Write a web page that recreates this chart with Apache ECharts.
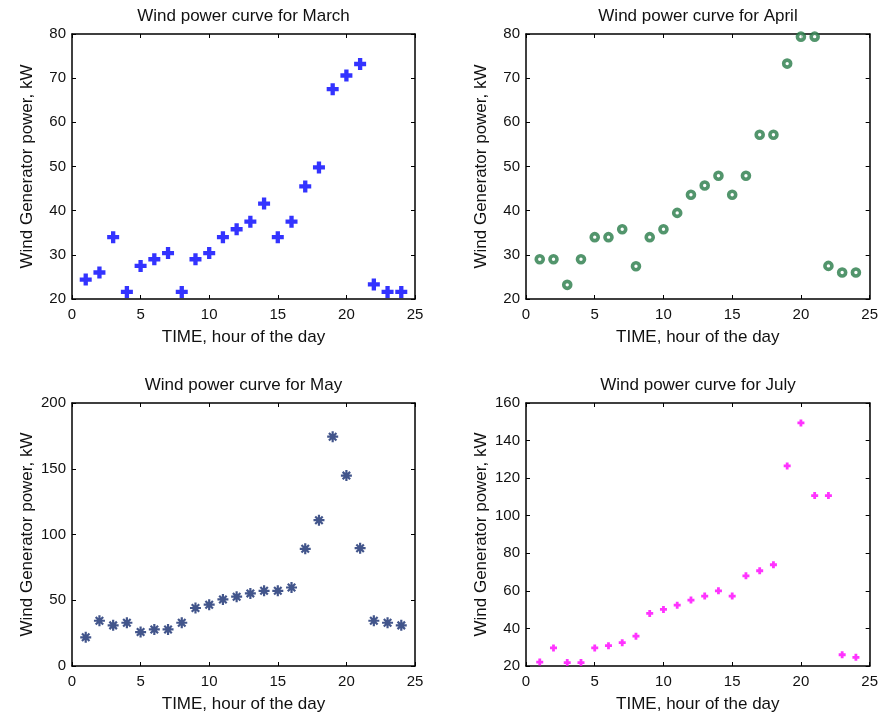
<!DOCTYPE html>
<html>
<head>
<meta charset="utf-8">
<script src="https://cdn.jsdelivr.net/npm/echarts@6/dist/echarts.min.js"></script>
<style>
  html, body { margin: 0; padding: 0; background: #fff; }
  #chart { width: 881px; height: 714px; }
</style>
</head>
<body>
<div id="chart"></div>
<script>
// Hour of the day, shared by all four panels
const hours = [1, 2, 3, 4, 5, 6, 7, 8, 9, 10, 11, 12, 13, 14, 15, 16, 17, 18, 19, 20, 21, 22, 23, 24];

// Generator power (kW) per hour, one array per month
const marchPower = [24.4, 26.0, 34.0, 21.6, 27.5, 29.0, 30.4, 21.6, 29.0, 30.4, 34.0, 35.8, 37.5, 41.6,
                    34.0, 37.5, 45.5, 49.8, 67.5, 70.6, 73.2, 23.3, 21.6, 21.6];
const aprilPower = [29.0, 29.0, 23.2, 29.0, 34.0, 34.0, 35.8, 27.4, 34.0, 35.8, 39.5, 43.6, 45.7, 47.9,
                    43.6, 47.9, 57.2, 57.2, 73.3, 79.4, 79.4, 27.5, 26.0, 26.0];
const mayPower   = [21.8, 34.4, 30.9, 32.9, 25.8, 27.8, 27.8, 32.9, 44.1, 46.6, 50.6, 52.7, 55.2, 57.2,
                    57.2, 59.7, 89.1, 110.9, 174.4, 144.8, 89.6, 34.4, 32.9, 30.9];
const julyPower  = [22.1, 29.6, 21.8, 21.8, 29.6, 30.8, 32.4, 35.9, 48.0, 50.1, 52.4, 55.1, 57.2, 60.0,
                    57.2, 68.0, 70.7, 73.9, 126.5, 149.4, 110.7, 110.7, 26.0, 24.6];

// Panel titles and y-axis ranges [min, max, step]
const panelTitles = ['Wind power curve for March', 'Wind power curve for April',
                     'Wind power curve for May', 'Wind power curve for July'];
const yRanges = [[20, 80, 10], [20, 80, 10], [0, 200, 50], [20, 160, 20]];
const xRange = [0, 25, 5];

const xName = 'TIME, hour of the day';
const yName = 'Wind Generator power, kW';

const FONT = '"Liberation Sans", Arial, sans-serif';

// Plot boxes (left, top, width, height)
const boxes = [
  { left: 72,  top: 34,  width: 343, height: 265 },
  { left: 526, top: 34,  width: 344, height: 265 },
  { left: 72,  top: 403, width: 343, height: 263 },
  { left: 526, top: 403, width: 344, height: 263 }
];

// Marker styles: thick plus, hollow ring, asterisk, small plus
const markerStyles = [
  { symbol: 'path://M3.2,0H6.8V3.2H10V6.8H6.8V10H3.2V6.8H0V3.2H3.2Z', symbolSize: 12,
    itemStyle: { color: '#0000ff' } },
  { symbol: 'circle', symbolSize: 7,
    itemStyle: { color: '#ffffff', borderColor: '#277a47', borderWidth: 3.6 } },
  { symbol: 'path://M5,0L5,10M0,5L10,5M1.6,1.6L8.4,8.4M8.4,1.6L1.6,8.4', symbolSize: 11,
    itemStyle: { color: 'none', borderColor: '#132a6e', borderWidth: 2.2 } },
  { symbol: 'path://M3,0H7V3H10V7H7V10H3V7H0V3H3Z', symbolSize: 7,
    itemStyle: { color: '#ff00ff' } }
];

const seriesData = [marchPower, aprilPower, mayPower, julyPower];

const axisLineStyle = { show: true, onZero: false, lineStyle: { color: '#000', width: 1.5 } };
const tickInside = { show: true, inside: true, length: 4, lineStyle: { color: '#000', width: 1 } };
const tickLabel = { color: '#111', fontFamily: FONT, fontSize: 15 };
const nameStyle = { fontFamily: FONT, fontSize: 17, color: '#111' };

const grids = [], xAxes = [], yAxes = [], series = [], titles = [];

boxes.forEach((b, i) => {
  grids.push({ left: b.left, top: b.top, width: b.width, height: b.height, containLabel: false });

  titles.push({
    text: panelTitles[i],
    left: b.left + b.width / 2,
    top: b.top - 26,
    textAlign: 'center',
    padding: 0,
    textStyle: { fontFamily: FONT, fontSize: 17, fontWeight: 'normal', color: '#111' }
  });

  // bottom x axis with labels
  xAxes.push({
    type: 'value', gridIndex: i, position: 'bottom',
    min: xRange[0], max: xRange[1], interval: xRange[2],
    name: xName, nameLocation: 'middle', nameGap: 30,
    nameTextStyle: nameStyle,
    axisLine: axisLineStyle, axisTick: tickInside,
    axisLabel: Object.assign({ margin: 8 }, tickLabel),
    splitLine: { show: false }
  });
  // top x axis (box edge with ticks)
  xAxes.push({
    type: 'value', gridIndex: i, position: 'top',
    min: xRange[0], max: xRange[1], interval: xRange[2],
    axisLine: axisLineStyle, axisTick: tickInside,
    axisLabel: { show: false }, splitLine: { show: false }
  });

  const yr = yRanges[i];
  // left y axis with labels
  yAxes.push({
    type: 'value', gridIndex: i, position: 'left',
    min: yr[0], max: yr[1], interval: yr[2],
    name: yName, nameLocation: 'middle', nameGap: 36,
    nameTextStyle: nameStyle,
    axisLine: axisLineStyle, axisTick: tickInside,
    axisLabel: Object.assign({ margin: 6 }, tickLabel),
    splitLine: { show: false }
  });
  // right y axis (box edge with ticks)
  yAxes.push({
    type: 'value', gridIndex: i, position: 'right',
    min: yr[0], max: yr[1], interval: yr[2],
    axisLine: axisLineStyle, axisTick: tickInside,
    axisLabel: { show: false }, splitLine: { show: false }
  });

  const m = markerStyles[i];
  series.push({
    type: 'scatter',
    xAxisIndex: i * 2,
    yAxisIndex: i * 2,
    symbol: m.symbol,
    symbolSize: m.symbolSize,
    itemStyle: m.itemStyle,
    clip: false,
    silent: true,
    data: hours.map((h, k) => [h, seriesData[i][k]])
  });
});

const chart = echarts.init(document.getElementById('chart'), null, { renderer: 'canvas' });
chart.setOption({
  backgroundColor: '#ffffff',
  animation: false,
  title: titles,
  grid: grids,
  xAxis: xAxes,
  yAxis: yAxes,
  series: series
});
</script>
</body>
</html>
